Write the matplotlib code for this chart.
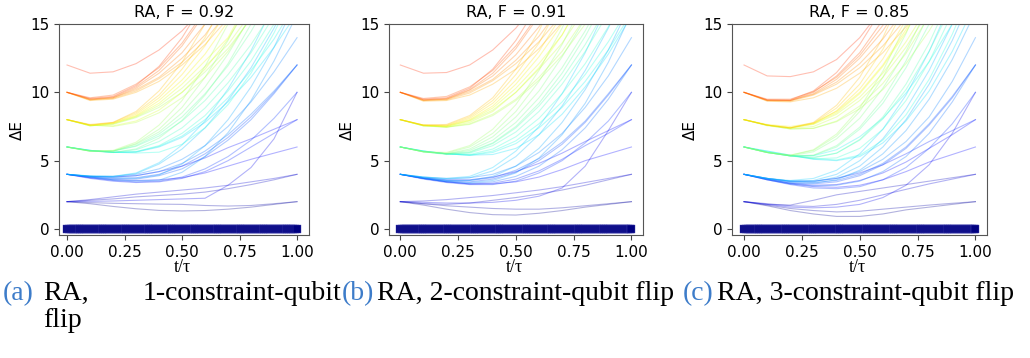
import numpy as np
import matplotlib.pyplot as plt

# ---------------------------------------------------------------------
# Datos: espectro ΔE(t/τ) para tres casos RA
# ---------------------------------------------------------------------
T = [0.0, 0.1, 0.2, 0.3, 0.4, 0.5, 0.6, 0.7, 0.8, 0.9, 1.0]

titles = ["RA, F = 0.92", "RA, F = 0.91", "RA, F = 0.85"]
tags = ["(a)", "(b)", "(c)"]

# estado fundamental (ΔE = 0 en toda la evolución)
t_ground = np.linspace(0.0, 1.0, 121)
e_ground = np.zeros_like(t_ground)

# ---------------- panel (a) ----------------
a_lvl2 = [
    [2.0, 1.85, 1.65, 1.48, 1.36, 1.32, 1.35, 1.45, 1.6, 1.8, 2.0],
    [2.0, 1.93, 1.88, 1.85, 1.82, 1.8, 1.72, 1.68, 1.72, 1.85, 2.0],
    [2.0, 2.02, 2.05, 2.1, 2.15, 2.2, 2.25, 3.2, 4.5, 6.6, 10.0],
    [2.0, 2.1, 2.2, 2.35, 2.45, 2.55, 2.7, 2.95, 3.25, 3.6, 4.0],
    [2.0, 2.15, 2.35, 2.55, 2.7, 2.85, 3.0, 3.2, 3.45, 3.7, 4.0],
]
a_lvl4 = [
    [4, 3.85, 3.85, 4.0, 4.4, 5.1, 6.1, 7.5, 9.3, 11.5, 14.0],
    [4, 3.8, 3.7, 3.75, 4.0, 4.6, 5.5, 6.7, 8.2, 10.0, 12.0],
    [4, 3.8, 3.65, 3.65, 3.9, 4.4, 5.3, 6.5, 8.0, 9.9, 12.0],
    [4, 3.85, 3.8, 3.9, 4.2, 4.8, 5.7, 6.9, 8.4, 10.1, 12.0],
    [4, 3.75, 3.55, 3.45, 3.5, 3.8, 4.4, 5.3, 6.5, 8.1, 10.0],
    [4, 3.85, 3.8, 3.9, 4.2, 4.6, 5.2, 5.95, 6.6, 7.3, 8.0],
    [4, 3.7, 3.5, 3.4, 3.45, 3.7, 4.2, 5.0, 6.0, 7.0, 8.0],
    [4, 3.75, 3.6, 3.55, 3.6, 3.75, 4.1, 4.6, 5.1, 5.55, 6.0],
    [4, 3.88, 3.85, 4.1, 4.85, 6.15, 7.9, 10.25, 13.05, 16.4],
    [4, 3.88, 3.85, 4.05, 4.75, 5.85, 7.4, 9.4, 11.8, 14.7, 18.0],
    [4, 3.85, 3.75, 3.7, 3.95, 4.75, 6.1, 8.0, 10.4, 13.3, 16.8],
    [4, 3.8, 3.6, 3.52, 3.57, 4.15, 5.3, 7.05, 9.4, 12.3, 15.7],
]
a_lvl6 = [
    [6, 5.7, 5.75, 6.35, 7.6, 9.4, 11.9, 15.0, 18.7],
    [6, 5.7, 5.7, 6.25, 7.3, 8.9, 11.1, 13.8, 17.0],
    [6, 5.7, 5.7, 6.2, 7.1, 8.5, 10.4, 12.8, 15.6],
    [6, 5.7, 5.7, 6.1, 6.95, 8.2, 9.9, 11.95, 14.45, 17.4],
    [6, 5.7, 5.7, 6.05, 6.8, 7.9, 9.4, 11.3, 13.5, 16.1],
    [6, 5.75, 5.62, 5.66, 6.1, 7.0, 8.3, 10.1, 12.3, 15.0, 18.1],
    [6, 5.75, 5.6, 5.65, 6.05, 6.8, 8.0, 9.6, 11.6, 13.9, 16.7],
    [6, 5.75, 5.6, 5.62, 6.0, 6.7, 7.8, 9.3, 11.1, 13.3, 15.8],
    [6, 5.75, 5.62, 5.56, 5.62, 6.2, 7.4, 9.1, 11.4, 14.35, 17.8],
    [6, 5.72, 5.6, 5.86, 6.65, 7.95, 9.8, 12.1, 15.0, 18.4],
    [6, 5.72, 5.6, 5.8, 6.4, 7.4, 8.85, 10.7, 12.9, 15.6],
]
a_lvl8 = [
    [8, 7.65, 7.8, 8.6, 10.1, 12.2, 15.0, 18.4],
    [8, 7.6, 7.8, 8.5, 9.8, 11.7, 14.0, 17.2],
    [8, 7.6, 7.75, 8.4, 9.6, 11.3, 13.4, 16.1],
    [8, 7.6, 7.75, 8.3, 9.4, 10.9, 12.8, 15.2],
    [8, 7.55, 7.7, 8.25, 9.2, 10.6, 12.3, 14.0, 17.1],
    [8, 7.55, 7.7, 8.2, 9.05, 10.3, 11.9, 13.5, 15.8],
    [8, 7.55, 7.65, 8.15, 8.9, 10.0, 11.5, 13.2, 15.4],
    [8, 7.6, 7.5, 7.8, 8.5, 9.6, 11.1, 13.0, 15.5],
    [8, 7.6, 7.55, 7.9, 8.7, 10.0, 11.7, 13.9, 16.6],
]
a_lvl10 = [
    [10, 9.55, 9.7, 10.5, 11.9, 14.0, 16.7],
    [10, 9.5, 9.65, 10.4, 11.6, 13.4, 15.8],
    [10, 9.5, 9.6, 10.3, 11.4, 12.9, 15.0, 17.0],
    [10, 9.45, 9.6, 10.2, 11.1, 12.5, 14.2, 16.6],
    [10, 9.45, 9.55, 10.1, 11.0, 12.2, 13.8, 15.9],
    [10, 9.4, 9.5, 10.0, 10.8, 12.0, 13.5, 15.4],
    [10, 9.6, 9.8, 10.6, 11.8, 13.6, 16.0],
]
a_lvl12 = [
    [12, 11.4, 11.5, 12.1, 13.1, 14.5, 16.3],
]

# ---------------- panel (b) ----------------
b_lvl2 = [
    [2, 1.75, 1.45, 1.2, 1.05, 1.02, 1.15, 1.35, 1.6, 1.8, 2.0],
    [2, 1.85, 1.7, 1.6, 1.5, 1.45, 1.45, 1.55, 1.7, 1.85, 2.0],
    [2, 1.85, 1.8, 1.9, 2.1, 2.3, 2.55, 2.85, 3.2, 3.6, 4.0],
    [2, 2.05, 2.15, 2.3, 2.45, 2.65, 2.85, 3.1, 3.4, 3.7, 4.0],
    [2, 1.95, 1.9, 1.9, 1.95, 2.1, 2.4, 3.0, 4.6, 7.2, 10.0],
]
b_lvl4 = [
    [4, 3.8, 3.7, 3.75, 4.0, 4.6, 5.6, 7.0, 8.9, 11.2, 14.0],
    [4, 3.7, 3.5, 3.45, 3.65, 4.15, 5.0, 6.2, 7.8, 9.8, 12.0],
    [4, 3.75, 3.55, 3.55, 3.75, 4.3, 5.15, 6.35, 7.9, 9.9, 12.0],
    [4, 3.7, 3.45, 3.35, 3.45, 3.85, 4.6, 5.8, 7.4, 9.5, 12.0],
    [4, 3.65, 3.4, 3.25, 3.25, 3.5, 4.1, 5.0, 6.3, 7.9, 10.0],
    [4, 3.75, 3.6, 3.6, 3.8, 4.2, 4.8, 5.55, 6.4, 7.2, 8.0],
    [4, 3.7, 3.45, 3.3, 3.35, 3.65, 4.25, 5.1, 6.1, 7.0, 8.0],
    [4, 3.7, 3.45, 3.3, 3.3, 3.45, 3.8, 4.35, 5.0, 5.5, 6.0],
    [4, 3.8, 3.7, 3.85, 4.5, 5.7, 7.5, 9.9, 12.9, 16.5],
    [4, 3.8, 3.65, 3.75, 4.25, 5.3, 6.9, 9.0, 11.6, 14.7, 18.3],
    [4, 3.75, 3.55, 3.55, 3.85, 4.6, 5.9, 7.8, 10.2, 13.1, 16.6],
    [4, 3.7, 3.5, 3.4, 3.55, 4.1, 5.2, 6.9, 9.2, 12.2, 15.8],
]
b_lvl6 = [
    [6, 5.65, 5.6, 6.1, 7.3, 9.1, 11.6, 14.7, 18.5],
    [6, 5.65, 5.55, 6.0, 7.0, 8.6, 10.8, 13.5, 16.8],
    [6, 5.65, 5.5, 5.85, 6.75, 8.2, 10.1, 12.6, 15.4],
    [6, 5.65, 5.5, 5.75, 6.5, 7.8, 9.6, 11.8, 14.5, 17.6],
    [6, 5.65, 5.45, 5.6, 6.25, 7.4, 9.0, 11.0, 13.5, 16.4],
    [6, 5.7, 5.5, 5.45, 5.85, 6.75, 8.1, 9.9, 12.1, 14.8, 18.0],
    [6, 5.7, 5.5, 5.4, 5.7, 6.45, 7.7, 9.3, 11.3, 13.7, 16.5],
    [6, 5.7, 5.5, 5.4, 5.6, 6.25, 7.4, 8.9, 10.8, 13.1, 15.8],
    [6, 5.7, 5.5, 5.4, 5.45, 5.9, 6.9, 8.4, 10.4, 12.8, 15.6],
    [6, 5.65, 5.5, 5.65, 6.3, 7.5, 9.2, 11.4, 14.1, 17.2],
    [6, 5.65, 5.5, 5.55, 6.1, 7.1, 8.6, 10.6, 13.0, 15.8],
]
b_lvl8 = [
    [8, 7.6, 7.65, 8.3, 9.6, 11.7, 14.5, 18.0],
    [8, 7.6, 7.6, 8.2, 9.4, 11.3, 13.6, 16.8],
    [8, 7.6, 7.55, 8.1, 9.2, 10.9, 13.0, 15.7],
    [8, 7.6, 7.55, 8.0, 9.0, 10.6, 12.6, 15.0, 18.0],
    [8, 7.55, 7.5, 7.95, 8.85, 10.3, 12.1, 14.2, 17.3],
    [8, 7.55, 7.5, 7.9, 8.7, 10.0, 11.7, 13.6, 16.1],
    [8, 7.55, 7.45, 7.7, 8.4, 9.5, 11.1, 13.0, 15.5],
    [8, 7.6, 7.45, 7.8, 8.6, 10.0, 11.8, 14.2, 17.1],
    [8, 7.55, 7.45, 7.65, 8.3, 9.4, 10.9, 12.7, 15.0, 17.8],
]
b_lvl10 = [
    [10, 9.5, 9.6, 10.3, 11.7, 13.8, 16.5],
    [10, 9.45, 9.55, 10.2, 11.4, 13.2, 15.6],
    [10, 9.45, 9.5, 10.15, 11.2, 12.75, 14.8, 17.0],
    [10, 9.4, 9.5, 10.05, 10.95, 12.35, 14.1, 16.4],
    [10, 9.4, 9.45, 9.95, 10.85, 12.1, 13.7, 15.7],
    [10, 9.55, 9.7, 10.4, 11.6, 13.4, 15.8],
    [10, 9.35, 9.4, 9.8, 10.6, 11.7, 13.2, 15.1],
]
b_lvl12 = [
    [12, 11.4, 11.45, 12.0, 13.1, 14.7, 16.8],
]

# ---------------- panel (c) ----------------
c_lvl2 = [
    [2, 1.7, 1.35, 1.1, 0.92, 0.92, 1.1, 1.4, 1.6, 1.8, 2.0],
    [2, 1.75, 1.5, 1.35, 1.25, 1.3, 1.45, 1.6, 1.75, 1.88, 2.0],
    [2, 1.8, 1.75, 2.1, 2.5, 2.75, 3.0, 3.25, 3.5, 3.75, 4.0],
    [2, 1.85, 1.7, 1.65, 1.8, 2.1, 2.5, 2.9, 3.3, 3.65, 4.0],
    [2, 1.8, 1.6, 1.55, 1.6, 1.8, 2.3, 3.2, 4.7, 7.0, 10.0],
]
c_lvl4 = [
    [4, 3.7, 3.5, 3.5, 3.7, 4.2, 5.1, 6.4, 8.2, 10.8, 14.0],
    [4, 3.65, 3.35, 3.3, 3.45, 3.9, 4.7, 5.9, 7.6, 9.6, 12.0],
    [4, 3.7, 3.45, 3.4, 3.55, 4.0, 4.8, 6.0, 7.7, 9.7, 12.0],
    [4, 3.6, 3.3, 3.15, 3.2, 3.5, 4.2, 5.3, 7.0, 9.3, 12.0],
    [4, 3.6, 3.25, 3.0, 2.95, 3.1, 3.6, 4.5, 5.9, 7.7, 10.0],
    [4, 3.65, 3.35, 3.2, 3.25, 3.55, 4.1, 4.9, 5.9, 6.9, 8.0],
    [4, 3.7, 3.5, 3.5, 3.7, 4.1, 4.7, 5.5, 6.4, 7.2, 8.0],
    [4, 3.6, 3.3, 3.1, 3.05, 3.2, 3.6, 4.2, 4.9, 5.45, 6.0],
    [4, 3.7, 3.5, 3.55, 4.0, 5.0, 6.6, 8.8, 11.6, 15.0, 19.0],
    [4, 3.7, 3.5, 3.45, 3.8, 4.6, 6.0, 8.0, 10.6, 13.8, 17.6],
    [4, 3.65, 3.4, 3.35, 3.6, 4.3, 5.5, 7.2, 9.5, 12.4, 15.9],
    [4, 3.7, 3.55, 3.7, 4.3, 5.5, 7.3, 9.8, 13.0, 16.8],
]
c_lvl6 = [
    [6, 5.6, 5.4, 5.75, 6.8, 8.6, 11.1, 14.3, 18.2],
    [6, 5.6, 5.35, 5.65, 6.6, 8.1, 10.3, 13.0, 16.4],
    [6, 5.6, 5.35, 5.38, 6.0, 7.3, 9.2, 11.8, 15.0, 18.8],
    [6, 5.6, 5.35, 5.2, 5.55, 6.55, 8.2, 10.6, 13.6, 17.3],
    [6, 5.65, 5.35, 5.13, 5.2, 5.9, 7.3, 9.4, 12.25, 15.8],
    [6, 5.7, 5.4, 5.15, 5.05, 5.4, 6.5, 8.35, 10.95, 14.25, 18.3],
    [6, 5.7, 5.4, 5.1, 5.0, 5.3, 6.3, 7.9, 10.1, 13.0, 16.5],
    [6, 5.6, 5.35, 5.36, 5.8, 6.75, 8.1, 9.95, 12.25, 15.0, 18.2],
    [6, 5.6, 5.4, 5.8, 6.95, 8.85, 11.55, 15.0, 19.2],
    [6, 5.6, 5.35, 5.25, 5.55, 6.5, 8.05, 10.2, 13.0, 16.4],
    [6, 5.6, 5.35, 5.4, 6.1, 7.45, 9.5, 12.3, 15.75],
]
c_lvl8 = [
    [8, 7.6, 7.4, 7.8, 9.05, 11.1, 14.0, 17.7],
    [8, 7.6, 7.4, 7.75, 8.85, 10.6, 13.15, 16.4],
    [8, 7.6, 7.4, 7.7, 8.65, 10.25, 12.45, 15.3],
    [8, 7.6, 7.4, 7.7, 8.5, 9.9, 11.9, 14.4, 17.5],
    [8, 7.6, 7.4, 7.65, 8.4, 9.65, 11.4, 13.7, 16.4],
    [8, 7.6, 7.32, 7.37, 7.9, 9.0, 10.65, 12.85, 15.6],
    [8, 7.6, 7.32, 7.36, 7.85, 8.8, 10.2, 12.1, 14.5, 17.3],
    [8, 7.65, 7.5, 7.75, 8.6, 10.0, 12.0, 14.6, 17.6],
    [8, 7.55, 7.35, 7.5, 8.2, 9.4, 11.1, 13.3, 16.0],
]
c_lvl10 = [
    [10, 9.45, 9.45, 10.1, 11.45, 13.5, 16.2],
    [10, 9.45, 9.4, 10.0, 11.2, 12.9, 15.3],
    [10, 9.4, 9.4, 9.9, 10.95, 12.5, 14.5, 17.1],
    [10, 9.4, 9.4, 9.85, 10.75, 12.1, 13.9, 16.2],
    [10, 9.4, 9.35, 9.8, 10.6, 11.8, 13.4, 15.4],
    [10, 9.5, 9.5, 10.05, 11.1, 12.7, 14.9, 17.5],
    [10, 9.35, 9.3, 9.6, 10.3, 11.4, 12.9, 14.8, 17.0],
]
c_lvl12 = [
    [12, 11.2, 11.15, 11.5, 12.4, 14.0, 16.2],
]

panels = [
    [a_lvl2, a_lvl4, a_lvl6, a_lvl8, a_lvl10, a_lvl12],
    [b_lvl2, b_lvl4, b_lvl6, b_lvl8, b_lvl10, b_lvl12],
    [c_lvl2, c_lvl4, c_lvl6, c_lvl8, c_lvl10, c_lvl12],
]

# posición de cada panel en píxeles (izq, der) y límites en x
ax_px = [(59, 309), (389, 643), (732, 987)]
xlims = [(-0.035, 1.052), (-0.049, 1.05), (-0.052, 1.05)]

W, H = 1030, 358
fig = plt.figure(figsize=(W / 100, H / 100), dpi=100)


def orden_color(fila):
    # curvas que salen antes por arriba quedan más "calientes"
    return (len(T) - len(fila)) * 100 + fila[-1]


for k, familias in enumerate(panels):
    x0, x1 = ax_px[k]
    ax = fig.add_axes([x0 / W, (H - 235) / H, (x1 - x0) / W, 211 / H])
    n_total = 1 + sum(len(f) for f in familias)
    idx = 1
    for fam in familias:
        for fila in sorted(fam, key=orden_color):
            col = plt.cm.jet(0.88 * idx / n_total)
            ax.plot(T[:len(fila)], fila, color=col, lw=0.8, alpha=0.3)
            idx += 1
    ax.plot(t_ground, e_ground, 's', color=plt.cm.jet(0.0), ms=6,
            mec=(0.3, 0.3, 0.7), mew=0.3, zorder=5)

    ax.set_xlim(*xlims[k])
    ax.set_ylim(-0.44, 15)
    ax.set_xticks([0, 0.25, 0.5, 0.75, 1.0])
    ax.set_yticks([0, 5, 10, 15])
    ax.tick_params(labelsize=11, color='#444444', length=3.5)
    for s in ax.spines.values():
        s.set_color('#555555')
    ax.set_title(titles[k], fontsize=11.5, pad=5)
    ax.set_ylabel('ΔE', fontsize=11)
    xc = (x0 + x1) / 2 - 2
    fig.text(xc / W, 1 - 267 / H, 't/τ', ha='center', va='center',
             family='Liberation Serif', fontsize=13)

# pies de figura
blue = '#3d7cc9'
cap_kw = dict(family='Liberation Serif', fontsize=20, va='baseline')
y1 = 1 - 300 / H
y2 = 1 - 327 / H
fig.text(3 / W, y1, tags[0], color=blue, **cap_kw)
fig.text(43 / W, y1, 'RA,', **cap_kw)
fig.text(341 / W, y1, '1-constraint-qubit', ha='right', **cap_kw)
fig.text(43 / W, y2, 'flip', **cap_kw)
fig.text(342 / W, y1, tags[1], color=blue, **cap_kw)
fig.text(377 / W, y1, 'RA, 2-constraint-qubit flip', **cap_kw)
fig.text(683 / W, y1, tags[2], color=blue, **cap_kw)
fig.text(717 / W, y1, 'RA, 3-constraint-qubit flip', **cap_kw)

fig.savefig('out.png', dpi=100)
